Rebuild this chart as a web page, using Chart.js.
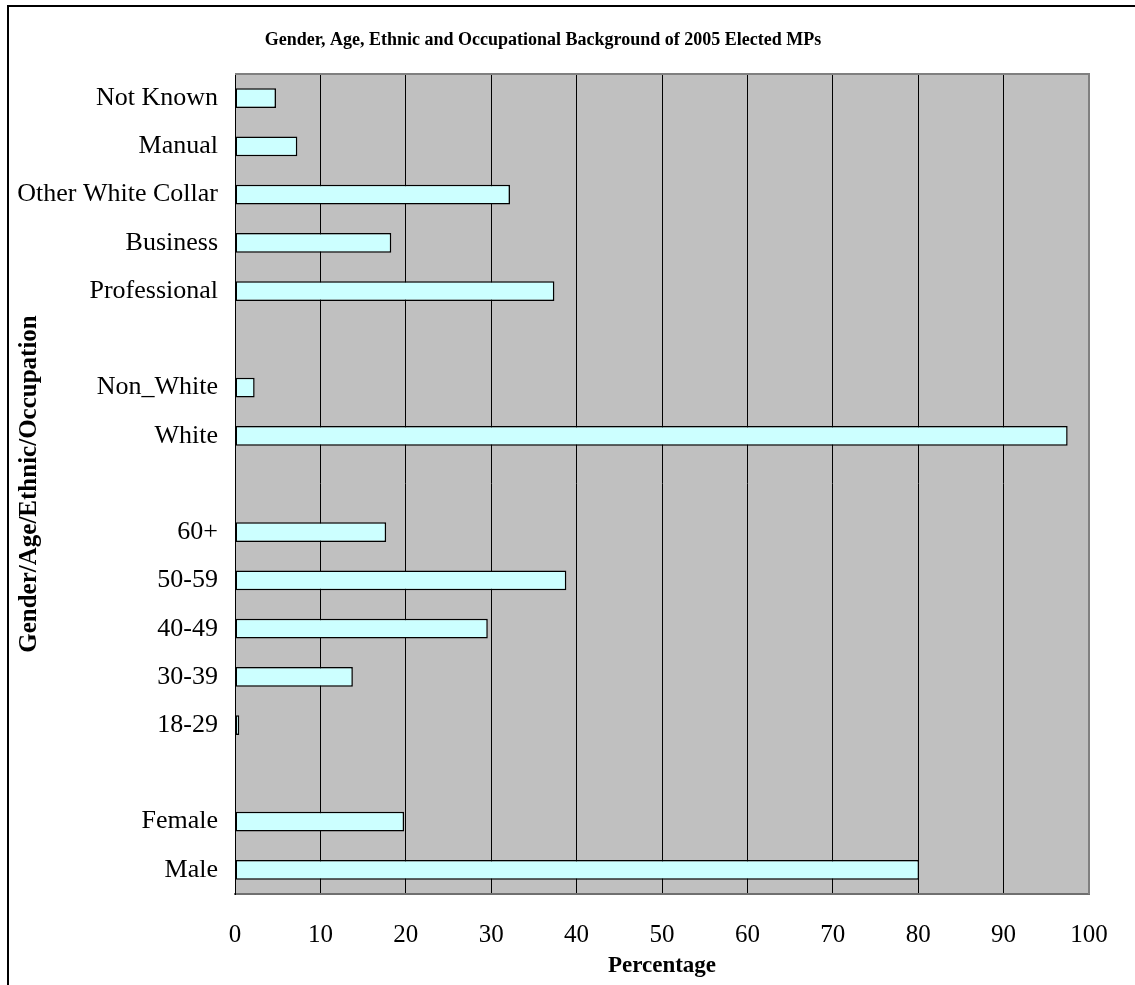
<!DOCTYPE html>
<html>
<head>
<meta charset="utf-8">
<script src="https://cdn.jsdelivr.net/npm/chart.js@4.4.1/dist/chart.umd.min.js"></script>
<style>
html, body { margin: 0; padding: 0; background: #fff; }
</style>
</head>
<body>
<canvas id="myChart" width="1135" height="985"></canvas>
<script>
// categories from top to bottom, blanks are the gaps between groups
const categories = ['Not Known', 'Manual', 'Other White Collar', 'Business', 'Professional', '',
    'Non_White', 'White', '',
    '60+', '50-59', '40-49', '30-39', '18-29', '',
    'Female', 'Male'];
const percentages = [4.8, 7.3, 32.2, 18.3, 37.4, null,
    2.3, 97.5, null,
    17.7, 38.8, 29.6, 13.8, 0.5, null,
    19.8, 80.1];
const xTickValues = [0, 10, 20, 30, 40, 50, 60, 70, 80, 90, 100];

const chartTitle = 'Gender, Age, Ethnic and Occupational Background of 2005 Elected MPs';
const serif = '"Liberation Serif", "Times New Roman", serif';

const backdrop = {
    id: 'backdrop',
    beforeDraw(chart) {
        const {ctx, chartArea: a} = chart;
        ctx.save();
        ctx.fillStyle = '#fff';
        ctx.fillRect(0, 0, chart.width, chart.height);
        // outer frame (runs off the right and bottom)
        ctx.strokeStyle = '#000';
        ctx.lineWidth = 2;
        ctx.beginPath();
        ctx.moveTo(8, 986);
        ctx.lineTo(8, 6);
        ctx.lineTo(1136, 6);
        ctx.stroke();
        // plot area
        ctx.fillStyle = '#C0C0C0';
        ctx.fillRect(a.left, a.top, a.right - a.left, a.bottom - a.top);
        ctx.restore();
    },
    afterDraw(chart) {
        const {ctx, chartArea: a} = chart;
        ctx.save();
        ctx.strokeStyle = '#808080';
        ctx.lineWidth = 2;
        ctx.beginPath();
        ctx.moveTo(a.left, a.top);
        ctx.lineTo(a.right, a.top);
        ctx.lineTo(a.right, a.bottom);
        ctx.stroke();
        ctx.fillStyle = '#000';
        ctx.font = 'bold 18px ' + serif;
        ctx.textAlign = 'center';
        ctx.textBaseline = 'middle';
        ctx.fillText(chartTitle, 543, 40);
        ctx.restore();
    }
};

const data = {
    labels: categories,
    datasets: [{
        data: percentages,
        backgroundColor: '#CCFFFF',
        borderColor: '#000',
        borderWidth: 1.5,
        borderSkipped: false,
        barPercentage: 0.41,
        categoryPercentage: 1.0,
    }],
};

const config = {
    type: 'bar',
    data: data,
    options: {
        indexAxis: 'y',
        responsive: false,
        animation: false,
        layout: {
            padding: {left: 0, right: 46, top: 74, bottom: 0}
        },
        plugins: {
            legend: {display: false},
            tooltip: {enabled: false},
            title: {display: false}
        },
        scales: {
            x: {
                min: 0,
                max: 100,
                afterBuildTicks: function(scale) {
                    scale.ticks = xTickValues.map(v => ({value: v}));
                },
                afterFit: function(scale) { scale.height = 91; },
                grid: {color: '#000', lineWidth: 1, drawTicks: false},
                border: {color: '#707070', width: 2},
                ticks: {
                    color: '#000',
                    padding: 26,
                    font: {family: serif, size: 25}
                },
                title: {
                    display: true,
                    text: 'Percentage',
                    color: '#000',
                    padding: {top: 4, bottom: 5},
                    font: {family: serif, size: 23, weight: 'bold'}
                }
            },
            y: {
                afterFit: function(scale) { scale.width = 235; },
                grid: {display: false, drawTicks: false},
                border: {color: '#000', width: 1},
                ticks: {
                    color: '#000',
                    padding: 17,
                    autoSkip: false,
                    font: {family: serif, size: 26}
                },
                title: {
                    display: true,
                    text: 'Gender/Age/Ethnic/Occupation',
                    color: '#000',
                    padding: {top: 15, bottom: 4},
                    font: {family: serif, size: 25, weight: 'bold'}
                }
            }
        }
    },
    plugins: [backdrop]
};

const ctx = document.getElementById('myChart').getContext('2d');
const myChart = new Chart(ctx, config);
</script>
</body>
</html>
